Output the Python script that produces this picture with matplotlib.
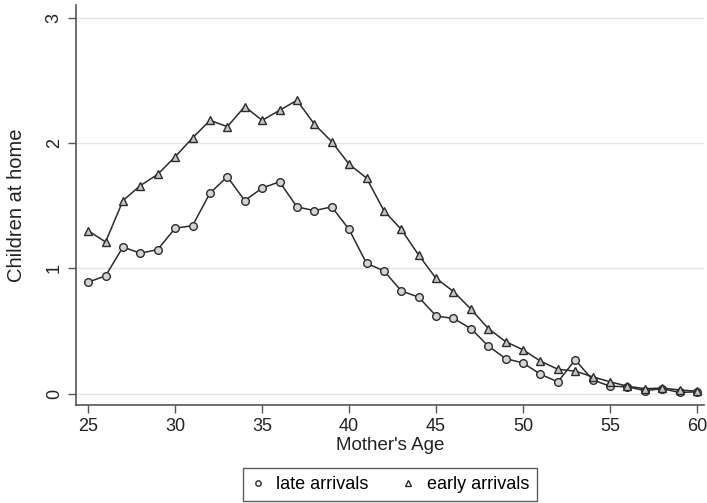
import matplotlib.pyplot as plt

plt.rcParams['font.family'] = ['Liberation Sans', 'DejaVu Sans']

ages = list(range(25, 61))

late = [0.89, 0.94, 1.17, 1.12, 1.15, 1.32, 1.34, 1.60, 1.73, 1.54,
        1.64, 1.69, 1.49, 1.46, 1.49, 1.31, 1.04, 0.98, 0.82, 0.77,
        0.62, 0.60, 0.52, 0.38, 0.28, 0.245, 0.155, 0.095, 0.27, 0.11,
        0.06, 0.055, 0.025, 0.04, 0.01, 0.015]

early = [1.30, 1.21, 1.54, 1.66, 1.75, 1.89, 2.04, 2.18, 2.13, 2.29,
         2.18, 2.26, 2.34, 2.15, 2.01, 1.83, 1.72, 1.46, 1.31, 1.105,
         0.92, 0.815, 0.675, 0.52, 0.415, 0.35, 0.26, 0.195, 0.18, 0.135,
         0.095, 0.06, 0.04, 0.045, 0.03, 0.02]

fig = plt.figure(figsize=(7.07, 5.03), dpi=100)
ax = fig.add_axes([76 / 707, 1 - 405 / 503, (704 - 76) / 707, 400 / 503])

line_col = '#2b2b2b'
ax.plot(ages, late, color=line_col, lw=1.1, marker='o', ms=5.5,
        mfc='#d4d4d4', mec=line_col, mew=1.0, label='late arrivals')
ax.plot(ages, early, color=line_col, lw=1.1, marker='^', ms=6,
        mfc='#c4c4c4', mec=line_col, mew=1.0, label='early arrivals')

ax.set_xlim(24.3, 60.4)
ax.set_ylim(-0.09, 3.1)
ax.set_xticks([25, 30, 35, 40, 45, 50, 55, 60])
ax.set_yticks([0, 1, 2, 3])
ax.grid(axis='y', color='#e6e6e6', lw=1.0)
ax.set_axisbelow(True)

for s in ['top', 'right']:
    ax.spines[s].set_visible(False)
for s in ['left', 'bottom']:
    ax.spines[s].set_color('#555555')
    ax.spines[s].set_linewidth(1.2)

ax.tick_params(axis='both', colors='#555555', length=6, width=1.0,
               labelsize=13, labelcolor='#222222')
for lbl in ax.get_yticklabels():
    lbl.set_rotation(90)
    lbl.set_va('center')

ax.set_xlabel("Mother's Age", fontsize=13.5, color='#222222', labelpad=1)
ax.set_ylabel('Children at home', fontsize=14.5, color='#222222', labelpad=14)

leg = ax.legend(loc='upper center', bbox_to_anchor=(0.5, -0.135), ncol=2,
                fontsize=13, frameon=True, fancybox=False, handlelength=0.8,
                markerscale=0.7, columnspacing=1.8, borderpad=0.45,
                handletextpad=0.6)
leg.get_frame().set_edgecolor('#333333')
leg.get_frame().set_linewidth(1.0)
for h in leg.legend_handles:
    h.set_linestyle('none')
    h.set_markerfacecolor('white')

fig.savefig('out.png', dpi=100)
